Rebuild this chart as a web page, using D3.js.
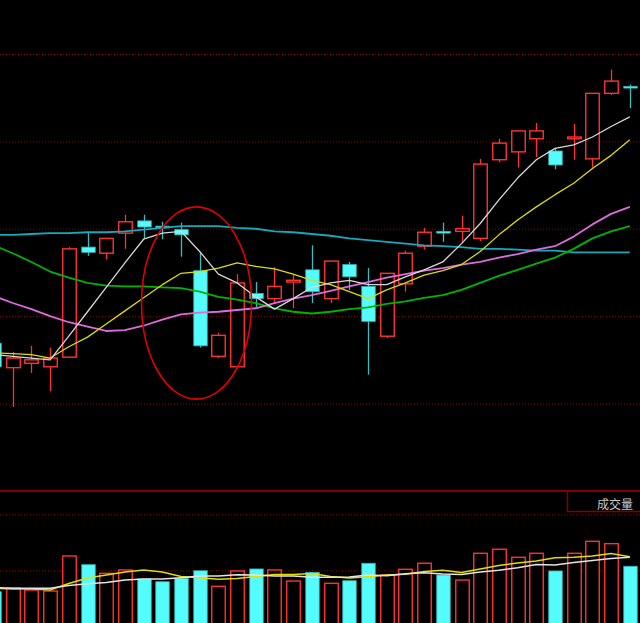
<!DOCTYPE html>
<html>
<head>
<meta charset="utf-8">
<script src="https://cdn.jsdelivr.net/npm/d3@7"></script>
<style>
  html, body { margin: 0; padding: 0; background: #000; }
  svg { display: block; }
</style>
</head>
<body>
<div id="chart"></div>
<script>
// ---------------- data ----------------
const open  = [10.69,10.41,10.46,10.42,10.53,11.79,11.72,11.95,12.09,12.03,11.99,11.52,10.54,10.42,11.26,11.20,11.39,11.53,11.20,11.59,11.34,10.77,11.37,11.80,11.97,11.97,11.89,12.79,12.88,13.03,12.89,13.03,12.80,13.55,13.63];
const high  = [10.72,10.59,10.66,10.64,11.79,11.95,11.89,12.16,12.16,12.08,12.07,11.72,10.81,11.48,11.39,11.56,11.47,11.81,11.63,11.62,11.55,11.49,11.75,12.01,12.07,12.15,12.80,13.03,13.12,13.21,12.92,13.20,13.55,13.82,13.65];
const low   = [10.39,9.96,10.35,10.14,10.52,11.69,11.65,11.77,11.89,11.88,11.68,10.64,10.52,10.42,11.10,11.15,11.09,11.15,11.15,11.30,10.33,10.75,11.28,11.76,11.85,11.84,11.86,12.76,12.70,12.82,12.68,12.79,12.70,13.53,13.38];
const close = [10.42,10.52,10.50,10.52,11.77,11.73,11.89,12.08,12.02,12.01,11.93,10.66,10.78,11.38,11.20,11.34,11.41,11.28,11.63,11.45,10.94,11.49,11.72,11.96,11.95,12.00,12.74,12.98,13.12,13.12,12.73,13.05,13.55,13.69,13.61];

const ma5  = [10.56,10.54,10.52,10.50,10.77,11.05,11.33,11.61,11.88,11.95,11.97,11.74,11.48,11.38,11.22,11.08,11.20,11.33,11.38,11.41,11.36,11.36,11.45,11.53,11.62,11.83,12.06,12.33,12.58,12.79,12.92,12.96,13.05,13.17,13.28];
const ma10 = [10.58,10.57,10.56,10.52,10.65,10.76,10.91,11.06,11.21,11.36,11.49,11.51,11.55,11.61,11.57,11.54,11.48,11.41,11.36,11.28,11.20,11.30,11.38,11.47,11.52,11.59,11.74,11.93,12.10,12.25,12.39,12.52,12.69,12.84,13.02];
const ma20 = [11.23,11.15,11.08,11.00,10.93,10.88,10.83,10.84,10.89,10.96,11.02,11.04,11.05,11.07,11.09,11.15,11.20,11.24,11.29,11.34,11.39,11.44,11.48,11.52,11.55,11.59,11.62,11.67,11.71,11.76,11.80,11.91,12.05,12.17,12.25];
const ma30 = [11.81,11.72,11.62,11.51,11.44,11.38,11.35,11.34,11.34,11.33,11.32,11.28,11.22,11.19,11.15,11.09,11.05,11.03,11.05,11.08,11.10,11.14,11.17,11.21,11.24,11.30,11.38,11.46,11.53,11.60,11.67,11.77,11.89,11.97,12.03];
const ma60 = [11.93,11.93,11.94,11.95,11.95,11.96,11.96,11.97,11.99,12.01,12.03,12.03,12.03,12.01,12.00,11.97,11.96,11.94,11.92,11.89,11.87,11.85,11.83,11.81,11.80,11.79,11.77,11.77,11.76,11.75,11.75,11.73,11.73,11.73,11.73];

const volume  = [3.09,3.42,3.24,3.15,6.28,5.50,4.73,5.03,4.22,3.98,4.29,4.96,3.57,4.94,5.12,5.03,4.04,4.82,3.84,4.07,5.63,4.58,5.09,5.63,4.58,4.13,6.52,6.88,6.16,6.52,4.94,6.52,7.59,7.38,5.36];
const volMa5  = [3.46,3.39,3.39,3.39,3.64,3.80,3.91,4.13,4.22,4.22,4.34,4.49,4.49,4.61,4.58,4.49,4.49,4.38,4.38,4.40,4.58,4.52,4.70,4.79,4.67,4.63,4.85,5.00,5.23,5.52,5.47,5.70,5.88,6.05,6.16];
const volMa10 = [3.39,3.33,3.33,3.24,3.82,4.31,4.58,4.85,5.03,4.85,4.45,4.34,4.20,4.27,4.45,4.63,4.63,4.71,4.45,4.31,4.43,4.58,4.64,4.89,5.00,4.80,5.12,5.43,5.65,5.83,6.13,6.16,6.28,6.50,6.21];

const priceGrid = [10, 11, 12, 13, 14];
const volGrid = [5, 10];
const volLabel = "成交量";

// circled area: centre (candle index, price) and radii (candles, price)
const circleMark = { i: 10.83, p: 11.15, ri: 2.94, rp: 1.10 };

// ---------------- layout ----------------
const w = 640;
const h = 623;
const volTop = 491;

const svg = d3.select("#chart")
  .append("svg")
  .attr("width", w)
  .attr("height", h);

svg.append("rect").attr("width", w).attr("height", h).attr("fill", "#000");

const xScale = d3.scaleLinear()
  .domain([0, open.length - 1])
  .range([-6, 629.8]);
const bodyW = 13.5;

const yPrice = d3.scaleLinear().domain([10, 14]).range([403.5, 54]);
const yVol = d3.scaleLinear().domain([0, 10]).range([626.3, 514.3]);

const UP = "#ff3232";
const DOWN = "#54fcfc";
const DOWN_WICK = "#3cbcbc";

const candles = open.map((o, i) => ({
  i: i, o: o, h: high[i], l: low[i], c: close[i], v: volume[i], up: close[i] >= o
}));

//-------------------grid---------------------------
const gridStyle = g => {
  g.select(".domain").remove();
  g.selectAll(".tick line")
    .attr("stroke", "#8c0000")
    .attr("stroke-width", 1)
    .attr("stroke-dasharray", "1,2");
};

svg.append("g")
  .attr("class", "grid")
  .call(d3.axisLeft(yPrice).tickValues(priceGrid).tickSize(-w).tickFormat(""))
  .call(gridStyle);

svg.append("g")
  .attr("class", "grid")
  .call(d3.axisLeft(yVol).tickValues(volGrid).tickSize(-w).tickFormat(""))
  .call(gridStyle);

// panel separator + volume label box
svg.append("line")
  .attr("x1", 0).attr("x2", w)
  .attr("y1", volTop).attr("y2", volTop)
  .attr("stroke", "#800000")
  .attr("stroke-width", 2);

svg.append("rect")
  .attr("x", 567.5).attr("y", volTop)
  .attr("width", 80).attr("height", 20.5)
  .attr("fill", "none")
  .attr("stroke", "#800000")
  .attr("stroke-width", 1.5);

svg.append("text")
  .attr("x", 633).attr("y", 508.5)
  .attr("text-anchor", "end")
  .attr("font-family", "'Noto Sans CJK SC', sans-serif")
  .attr("font-size", 12)
  .attr("fill", "#c8c8c8")
  .text(volLabel);

//-------------------candles---------------------------
const cg = svg.append("g").attr("id", "candles");

cg.selectAll("line.wick")
  .data(candles)
  .enter()
  .append("line")
  .attr("class", "wick")
  .attr("x1", d => Math.round(xScale(d.i)) + 0.5)
  .attr("x2", d => Math.round(xScale(d.i)) + 0.5)
  .attr("y1", d => yPrice(d.h))
  .attr("y2", d => yPrice(d.l))
  .attr("stroke", d => d.up ? UP : DOWN_WICK)
  .attr("stroke-width", 1.3);

cg.selectAll("rect.body")
  .data(candles)
  .enter()
  .append("rect")
  .attr("class", "body")
  .attr("x", d => Math.round(xScale(d.i)) + 0.5 - bodyW / 2)
  .attr("y", d => yPrice(Math.max(d.o, d.c)))
  .attr("width", bodyW)
  .attr("height", d => Math.max(1.5, Math.abs(yPrice(d.o) - yPrice(d.c))))
  .attr("fill", d => d.up ? "#000" : DOWN)
  .attr("stroke", d => d.up ? UP : "#38b0b0")
  .attr("stroke-width", d => d.up ? 1.4 : 0.8);

//-------------------moving averages---------------------------
const priceLine = d3.line()
  .x((d, i) => xScale(i))
  .y(d => yPrice(d));

const maSeries = [
  { data: ma60, color: "#16a8bc", width: 1.8 },
  { data: ma30, color: "#00b400", width: 1.8 },
  { data: ma20, color: "#dc6cdc", width: 1.8 },
  { data: ma10, color: "#dcdc00", width: 1.3 },
  { data: ma5,  color: "#d8d8d8", width: 1.3 }
];

svg.append("g")
  .attr("id", "ma")
  .selectAll("path")
  .data(maSeries)
  .enter()
  .append("path")
  .attr("d", d => priceLine(d.data))
  .attr("fill", "none")
  .attr("stroke", d => d.color)
  .attr("stroke-width", d => d.width)
  .attr("stroke-linejoin", "round");

// red ring around the pull-back
svg.append("ellipse")
  .attr("cx", xScale(circleMark.i))
  .attr("cy", yPrice(circleMark.p))
  .attr("rx", xScale(circleMark.ri) - xScale(0))
  .attr("ry", yPrice(0) - yPrice(circleMark.rp))
  .attr("fill", "none")
  .attr("stroke", "#e00000")
  .attr("stroke-width", 1.6);

//-------------------volume---------------------------
const vg = svg.append("g").attr("id", "volume");

vg.selectAll("rect")
  .data(candles)
  .enter()
  .append("rect")
  .attr("x", d => Math.round(xScale(d.i)) + 0.5 - bodyW / 2)
  .attr("y", d => yVol(d.v))
  .attr("width", bodyW)
  .attr("height", d => yVol(0) - yVol(d.v))
  .attr("fill", d => d.up ? "#000" : DOWN)
  .attr("stroke", d => d.up ? UP : "#38b0b0")
  .attr("stroke-width", d => d.up ? 1.4 : 0.8);

const volLine = d3.line()
  .x((d, i) => xScale(i))
  .y(d => yVol(d));

vg.append("path")
  .attr("d", volLine(volMa10))
  .attr("fill", "none")
  .attr("stroke", "#e0e000")
  .attr("stroke-width", 1.5);

vg.append("path")
  .attr("d", volLine(volMa5))
  .attr("fill", "none")
  .attr("stroke", "#e4e4e4")
  .attr("stroke-width", 1.5);
</script>
</body>
</html>
